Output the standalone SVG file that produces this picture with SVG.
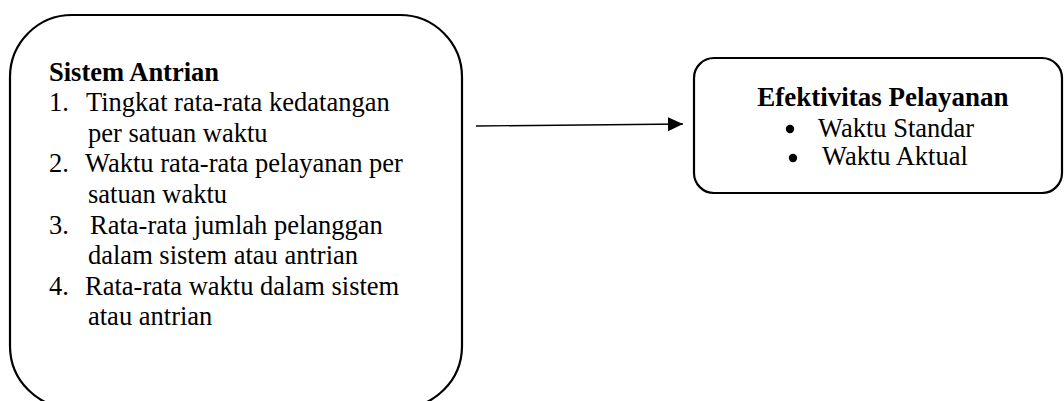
<svg xmlns="http://www.w3.org/2000/svg" width="1064" height="401" viewBox="0 0 1064 401">
  <style>
    .box { fill: #ffffff; stroke: #000000; stroke-width: 2.2; }
    .t { font-family: "Liberation Serif", "Times New Roman", serif; font-size: 26.5px; fill: #000000; }
    .b { font-weight: bold; }
    .conn { stroke: #000000; stroke-width: 1.4; fill: none; }
  </style>
  <defs>
    <marker id="arrow" markerUnits="userSpaceOnUse" markerWidth="16" markerHeight="16" refX="15" refY="7" orient="auto">
      <path d="M0,0 L15,7 L0,14 Z" fill="#000000"/>
    </marker>
  </defs>
  <rect width="1064" height="401" fill="#ffffff"/>
  <g id="node-sistem-antrian">
    <rect class="box" x="10" y="15" width="452" height="393" rx="62" ry="62"/>
    <text class="t b" x="49" y="80.5">Sistem Antrian</text>
    <text class="t" x="49" y="111">1.</text>
    <text class="t" x="86" y="111">Tingkat rata-rata kedatangan</text>
    <text class="t" x="88" y="141.7">per satuan waktu</text>
    <text class="t" x="49" y="172.3">2.</text>
    <text class="t" x="85" y="172.3">Waktu rata-rata pelayanan per</text>
    <text class="t" x="88" y="203">satuan waktu</text>
    <text class="t" x="49" y="233.5">3.</text>
    <text class="t" x="90" y="233.5">Rata-rata jumlah pelanggan</text>
    <text class="t" x="88" y="264.1">dalam sistem atau antrian</text>
    <text class="t" x="49" y="294.7">4.</text>
    <text class="t" x="85" y="294.7">Rata-rata waktu dalam sistem</text>
    <text class="t" x="88" y="325.3">atau antrian</text>
  </g>
  <g id="node-efektivitas">
    <rect class="box" x="694" y="58" width="368" height="135" rx="20" ry="20"/>
    <text class="t b" x="883" y="106" text-anchor="middle" style="font-size:27px">Efektivitas Pelayanan</text>
    <circle cx="790" cy="129" r="4.2" fill="#000000"/>
    <text class="t" x="818" y="137">Waktu Standar</text>
    <circle cx="793" cy="158" r="4.2" fill="#000000"/>
    <text class="t" x="822" y="165">Waktu Aktual</text>
  </g>
  <g id="connectors">
    <line class="conn" x1="476" y1="126" x2="683" y2="124" marker-end="url(#arrow)"/>
  </g>
</svg>
